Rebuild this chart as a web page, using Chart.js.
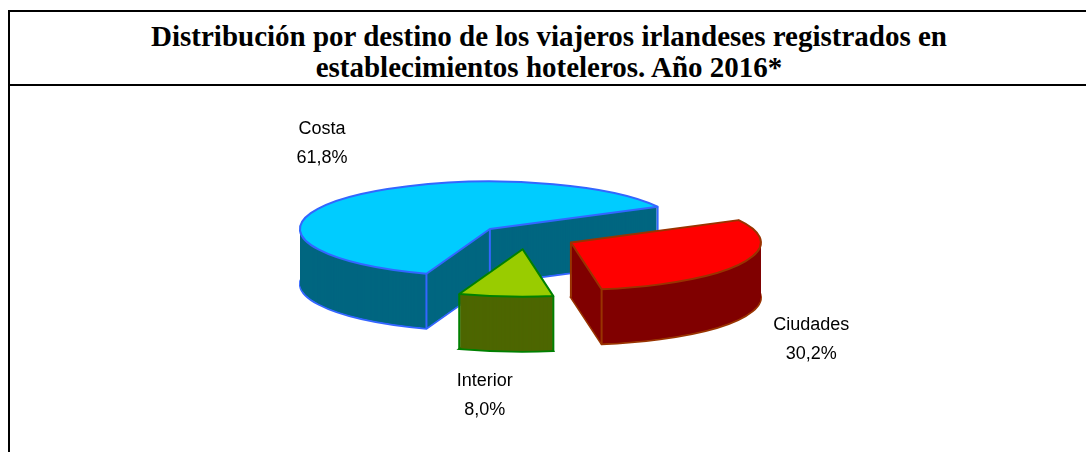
<!DOCTYPE html>
<html>
<head>
<meta charset="utf-8">
<script src="https://cdn.jsdelivr.net/npm/chart.js@4/dist/chart.umd.min.js"></script>
<style>
    body { margin: 0; background: #fff; width: 1086px; height: 452px; overflow: hidden; position: relative; }
    #frame {
        position: absolute; left: 8px; top: 10px; width: 1100px; height: 480px;
        border-left: 2px solid #000; border-top: 2px solid #000;
    }
    #title {
        height: 74px; border-bottom: 2px solid #000; text-align: center;
        font: bold 29px "Liberation Serif", "Times New Roman", serif; line-height: 31px;
        padding-top: 9px; box-sizing: border-box; width: 1078px; white-space: nowrap;
    }
    #chart-wrap { position: absolute; left: 0; top: 88px; width: 1086px; height: 364px; }
</style>
</head>
<body>
<div id="frame"><div id="title">Distribución por destino de los viajeros irlandeses registrados en<br>establecimientos hoteleros. Año 2016*</div></div>
<div id="chart-wrap"><canvas id="pie"></canvas></div>
<script>
// Data
const destinos = ['Costa', 'Ciudades', 'Interior'];
const porcentajes = [61.8, 30.2, 8.0];

// Colours: top face, side face, outline
const topColors = ['#00CCFF', '#FF0000', '#99CC00'];
const sideColors = ['#006680', '#800000', '#4D6600'];
const edgeColors = ['#3366FF', '#993300', '#008000'];

// 3D look
const TILT = 0.25;     // vertical squash of the pie disc
const DEPTH = 55;      // thickness in px
const EXPLODE = 49;    // slice pull-out in px
const EDGE_W = 2;

// label nudges from the outer mid point of each slice
const labelShift = [[-24, -55], [70, 76], [-21, 99]];

function squash(ctx, c) {
    ctx.translate(c.x, c.y);
    ctx.scale(1, TILT);
    ctx.translate(-c.x, -c.y);
}

function project(c, x, y) {
    return { x: x, y: c.y + (y - c.y) * TILT };
}

function slicePath(ctx, arc) {
    ctx.beginPath();
    ctx.moveTo(arc.x, arc.y);
    ctx.arc(arc.x, arc.y, arc.outerRadius, arc.startAngle, arc.endAngle);
    ctx.closePath();
}

function drawSide(ctx, c, arc, fill, stroke) {
    // stacked copies of the slice shape give the extruded body
    for (let d = DEPTH; d >= 1; d--) {
        ctx.save();
        ctx.translate(0, d);
        squash(ctx, c);
        slicePath(ctx, arc);
        ctx.restore();
        ctx.fillStyle = fill;
        ctx.fill();
        if (d === DEPTH) {
            ctx.lineWidth = EDGE_W;
            ctx.strokeStyle = stroke;
            ctx.stroke();
        }
    }
    // vertical edges that face the viewer
    const s = arc.startAngle, e = arc.endAngle, r = arc.outerRadius;
    const faceS = Math.cos(s) < 0, faceE = Math.cos(e) > 0;
    const corners = [];
    if (faceS || faceE) corners.push([arc.x, arc.y]);
    if (faceS || Math.sin(s) > 0) corners.push([arc.x + r * Math.cos(s), arc.y + r * Math.sin(s)]);
    if (faceE || Math.sin(e) > 0) corners.push([arc.x + r * Math.cos(e), arc.y + r * Math.sin(e)]);
    ctx.lineWidth = EDGE_W;
    ctx.strokeStyle = stroke;
    for (const [x, y] of corners) {
        const p = project(c, x, y);
        ctx.beginPath();
        ctx.moveTo(p.x, p.y);
        ctx.lineTo(p.x, p.y + DEPTH);
        ctx.stroke();
    }
}

const pie3d = {
    id: 'pie3d',
    afterDatasetUpdate(chart, args) {
        const arcs = args.meta.data;
        if (!arcs.length) return;
        chart.$center = { x: arcs[0].x, y: arcs[0].y };
        for (const arc of arcs) {
            const mid = (arc.startAngle + arc.endAngle) / 2;
            arc.x += Math.cos(mid) * EXPLODE;
            arc.y += Math.sin(mid) * EXPLODE;
        }
    },
    beforeDatasetsDraw(chart) {
        const ctx = chart.ctx, c = chart.$center;
        const arcs = chart.getDatasetMeta(0).data;
        arcs.forEach((arc, i) => drawSide(ctx, c, arc, sideColors[i], edgeColors[i]));
        ctx.save();
        squash(ctx, c);
    },
    afterDatasetsDraw(chart) {
        const ctx = chart.ctx, c = chart.$center;
        ctx.restore();
        const arcs = chart.getDatasetMeta(0).data;
        // outline of the top faces, kept at even width
        arcs.forEach((arc, i) => {
            ctx.save();
            squash(ctx, c);
            slicePath(ctx, arc);
            ctx.restore();
            ctx.lineWidth = EDGE_W;
            ctx.lineJoin = 'round';
            ctx.strokeStyle = edgeColors[i];
            ctx.stroke();
        });
        // labels
        ctx.save();
        ctx.fillStyle = '#000';
        ctx.font = '18px "Liberation Sans", Arial, sans-serif';
        ctx.textAlign = 'center';
        ctx.textBaseline = 'middle';
        arcs.forEach((arc, i) => {
            const mid = (arc.startAngle + arc.endAngle) / 2;
            const p = project(c, arc.x + arc.outerRadius * Math.cos(mid), arc.y + arc.outerRadius * Math.sin(mid));
            const x = p.x + labelShift[i][0], y = p.y + labelShift[i][1];
            ctx.fillText(destinos[i], x, y - 14);
            ctx.fillText(porcentajes[i].toFixed(1).replace('.', ',') + '%', x, y + 15);
        });
        ctx.restore();
    }
};

new Chart(document.getElementById('pie'), {
    type: 'pie',
    data: {
        labels: destinos,
        datasets: [{
            data: porcentajes,
            backgroundColor: topColors,
            borderWidth: 0,
            clip: false,
        }],
    },
    options: {
        responsive: true,
        maintainAspectRatio: false,
        animation: false,
        rotation: 199.5,
        radius: 190,
        layout: { padding: { left: 0, right: 32, top: 0, bottom: 66 } },
        plugins: {
            legend: { display: false },
            tooltip: { enabled: false },
        },
    },
    plugins: [pie3d],
});
</script>
</body>
</html>
